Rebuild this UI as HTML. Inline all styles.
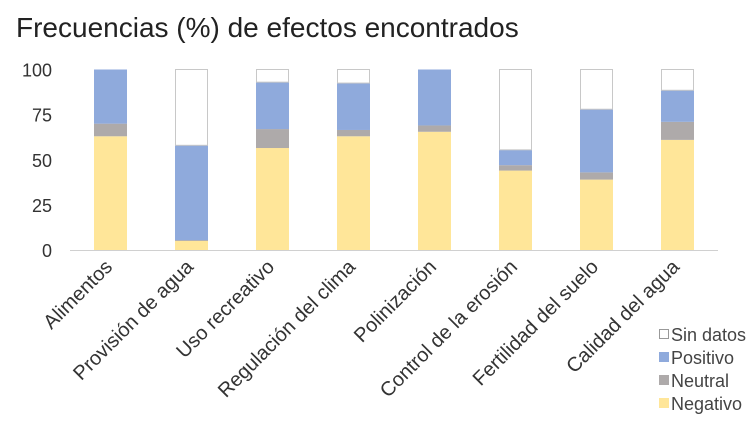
<!DOCTYPE html>
<html><head><meta charset="utf-8"><style>
body{margin:0;background:#fff;width:754px;height:425px;overflow:hidden;font-family:"Liberation Sans",sans-serif}
</style></head><body>
<svg width="754" height="425">
<text x="16" y="37" font-size="28" fill="#222">Frecuencias (%) de efectos encontrados</text>
<g id="axes"></g><g id="bars"></g><g id="labels"></g>
<g font-size="18" fill="#444">
<g><rect x="659.5" y="329.5" width="9" height="9" fill="#fff" stroke="#999"/><text x="671" y="341">Sin datos</text></g>
<g><rect x="659" y="352" width="10" height="10" fill="#8FAADC"/><text x="671" y="364">Positivo</text></g>
<g><rect x="659" y="375" width="10" height="10" fill="#AEAAAA"/><text x="671" y="387">Neutral</text></g>
<g><rect x="659" y="398" width="10" height="10" fill="#FFE699"/><text x="671" y="410">Negativo</text></g>
</g>
</svg>
<script>
const categories=["Alimentos","Provisión de agua","Uso recreativo","Regulación del clima","Polinización","Control de la erosión","Fertilidad del suelo","Calidad del agua"];
const negativo=[63,5,56.5,63,65.5,44,39,61];
const neutral=[7,0.5,10.5,3.5,3.5,3,4,10];
const positivo=[30,52.5,26,26,31,8.5,35,17.5];
const sinDatos=[0,42,7,7.5,0,44.5,22,11.5];
const yTicks=[0,25,50,75,100];
const NS="http://www.w3.org/2000/svg";
const y0=250,yTop=69.5,x0=70,step=81,bw=33;
const yS=v=>y0-(y0-yTop)*v/100;
const xC=i=>x0+step*(i+0.5);
function mk(t,a,p){const e=document.createElementNS(NS,t);for(const k in a)e.setAttribute(k,a[k]);p.appendChild(e);return e;}
const ax=document.getElementById('axes');
yTicks.forEach(t=>{const e=mk('text',{x:52,y:yS(t)+7,'text-anchor':'end','font-size':18,fill:'#333'},ax);e.textContent=t;

});
const al=mk('line',{x1:x0,x2:x0+step*8,y1:y0+0.5,y2:y0+0.5,stroke:'#d0d0d0','stroke-width':1},ax);


const bg=document.getElementById('bars');
const series=[[negativo,'#FFE699','negativo'],[neutral,'#AEAAAA','neutral'],[positivo,'#8FAADC','positivo'],[sinDatos,'#fff','sin-datos']];
categories.forEach((c,i)=>{let acc=0;series.forEach(([arr,col,nm])=>{const v=arr[i];if(v>0){
const attrs={x:xC(i)-bw/2,y:yS(acc+v),width:bw,height:yS(acc)-yS(acc+v),fill:col};
if(nm==='sin-datos'){attrs.stroke='#c8c8c8';attrs['stroke-width']=1;attrs.x+=0.5;attrs.width-=1;}
const r=mk('rect',attrs,bg);

}acc+=v;});});
const lg=document.getElementById('labels');
categories.forEach((c,i)=>{const x=xC(i)+3,y=268;const e=mk('text',{x:x,y:y,'text-anchor':'end','font-size':20,fill:'#333',transform:`rotate(-45 ${x} ${y})`},lg);e.textContent=c;

});
</script>
</body></html>
